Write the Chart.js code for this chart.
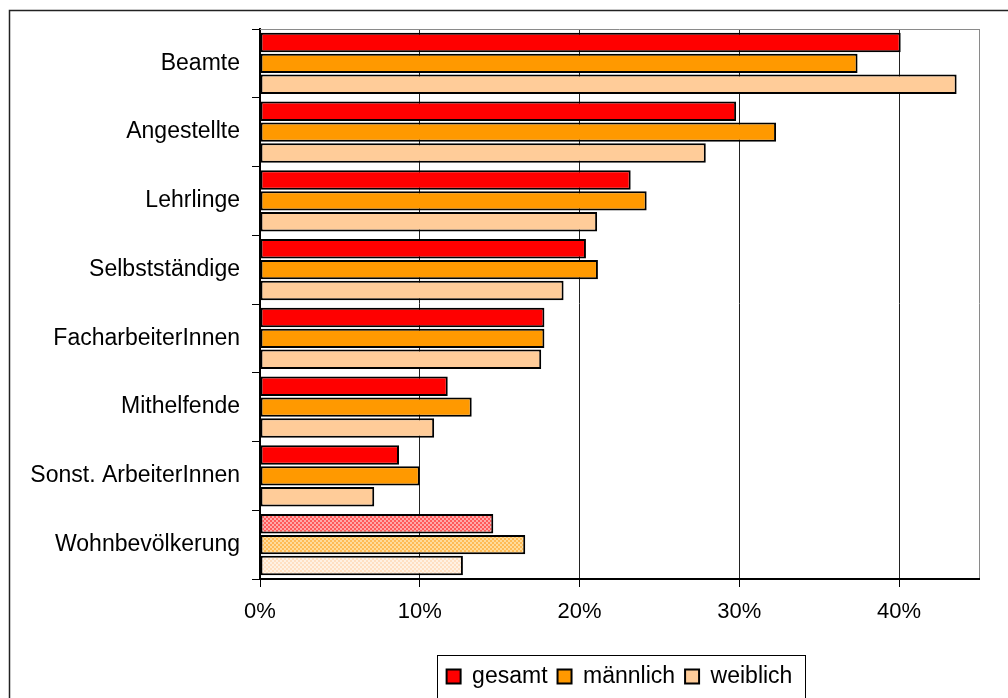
<!DOCTYPE html>
<html><head><meta charset="utf-8">
<script src="https://cdn.jsdelivr.net/npm/chart.js@4.4.0/dist/chart.umd.min.js"></script>
<style>html,body{margin:0;padding:0;background:#fff}#wrap{position:relative;width:1008px;height:698px}</style>
</head><body><div id="wrap"><canvas id="c" width="1008" height="698"></canvas></div>
<script>
const categories = ['Beamte','Angestellte','Lehrlinge','Selbstständige','FacharbeiterInnen','Mithelfende','Sonst. ArbeiterInnen','Wohnbevölkerung'];
const seriesNames = ['gesamt','männlich','weiblich'];
const gesamt    = [40.1, 29.8, 23.2, 20.4, 17.8, 11.75, 8.7, 14.6];
const maennlich = [37.4, 32.3, 24.2, 21.15, 17.8, 13.25, 10.0, 16.6];
const weiblich  = [43.6, 27.9, 21.1, 19.0, 17.6, 10.9, 7.15, 12.7];
const xMax = 45;
const xStep = 10;

const colors = ['#ff0000','#ff9900','#ffcc99'];
const patternColors = [['#ff5a5a','#ffaaaa'],['#ffbb55','#ffdc9c'],['#ffe0c2','#fff2e4']];
const patternIndex = categories.length - 1;

function makePattern(a, b) {
  const c = document.createElement('canvas');
  c.width = 4; c.height = 4;
  const g = c.getContext('2d');
  g.fillStyle = a; g.fillRect(0,0,4,4);
  g.fillStyle = b; g.fillRect(0,0,2,2); g.fillRect(2,2,2,2);
  return g.createPattern(c, 'repeat');
}
const patterns = patternColors.map(p => makePattern(p[0], p[1]));

Chart.defaults.font.family = "'Liberation Sans', Arial, sans-serif";
Chart.defaults.color = '#000';

const frames = {
  id: 'frames',
  beforeDraw(chart) {
    const c = chart.ctx;
    c.save();
    c.strokeStyle = '#222'; c.lineWidth = 1.5;
    c.strokeRect(9.5, 10.5, 1200, 1000);
    c.restore();
  },
  afterDraw(chart) {
    const c = chart.ctx, a = chart.chartArea;
    c.save();
    c.strokeStyle = '#8a8a8a'; c.lineWidth = 1;
    c.beginPath();
    c.moveTo(a.left, Math.round(a.top) + 0.5);
    c.lineTo(a.right, Math.round(a.top) + 0.5);
    c.stroke();
    const hb = chart.legend.legendHitBoxes;
    if (hb && hb.length) {
      let minX = Infinity, maxX = -Infinity, top = hb[0].top, h = hb[0].height;
      hb.forEach(b => { minX = Math.min(minX, b.left); maxX = Math.max(maxX, b.left + b.width); });
      c.strokeStyle = '#000'; c.lineWidth = 1;
      c.strokeRect(Math.round(minX - 10) + 0.5, Math.round(top - 10) + 0.5, Math.round(maxX - minX + 22), Math.round(h + 20));
    }
    c.restore();
  }
};

const values = [gesamt, maennlich, weiblich];
const datasets = values.map((v, i) => ({
  label: seriesNames[i],
  data: v,
  backgroundColor: (ctx) => (ctx.dataIndex === patternIndex ? patterns[i] : colors[i]),
  borderColor: '#000',
  borderWidth: 2,
  borderSkipped: false,
  categoryPercentage: 0.91,
  barPercentage: 0.93
}));

new Chart(document.getElementById('c'), {
  type: 'bar',
  data: { labels: categories, datasets },
  plugins: [frames],
  options: {
    responsive: false,
    animation: false,
    indexAxis: 'y',
    layout: { padding: { top: 29, right: 29, left: 0, bottom: 0 } },
    plugins: {
      tooltip: { enabled: false },
      legend: {
        position: 'bottom',
        fullSize: false,
        labels: { boxWidth: 14, boxHeight: 14, padding: 10, font: { size: 23 }, color: '#000' }
      }
    },
    scales: {
      x: {
        min: 0, max: xMax,
        afterFit(s) { s.height = 76; },
        ticks: {
          stepSize: xStep,
          padding: 12,
          font: { size: 22 },
          color: '#000',
          callback: (v) => (v % xStep === 0 ? v + '%' : '')
        },
        grid: {
          color: (ctx) => (ctx.tick && ctx.tick.value === xMax ? '#8a8a8a' : '#222'),
          tickColor: (ctx) => (ctx.tick && ctx.tick.value === xMax ? 'rgba(0,0,0,0)' : '#000'),
          lineWidth: 1,
          tickLength: 8
        },
        border: { color: '#000', width: 2 }
      },
      y: {
        afterFit(s) { s.width = 260; },
        ticks: { padding: 12, font: { size: 23 }, color: '#000' },
        grid: { drawOnChartArea: false, drawTicks: true, tickLength: 8, color: '#000', offset: true },
        border: { color: '#000', width: 2 }
      }
    }
  }
});
</script></body></html>
